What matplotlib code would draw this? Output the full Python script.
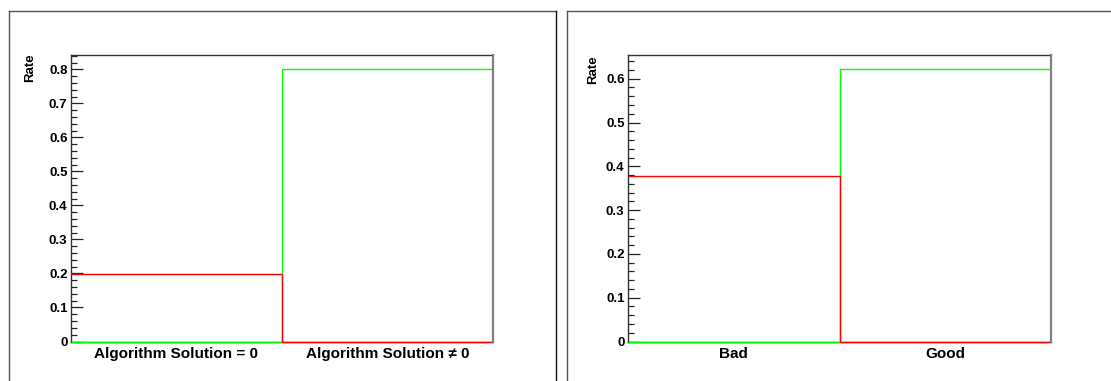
import matplotlib
matplotlib.use('Agg')
from matplotlib import pyplot as plt
from matplotlib.lines import Line2D
import matplotlib.ticker as ticker
import numpy as np

plt.rcParams['font.family'] = ['Liberation Sans', 'DejaVu Sans']
plt.rcParams['font.weight'] = 'bold'

# -------- data ----------#
labels_1 = ['Algorithm Solution = 0', 'Algorithm Solution \u2260 0']
green_1 = [0.0, 0.802]
red_1 = [0.198, 0.0]

labels_2 = ['Bad', 'Good']
green_2 = [0.0, 0.623]
red_2 = [0.377, 0.0]

W, H = 1111, 381
fig = plt.figure(figsize=(W / 100, H / 100), dpi=100)


def px_axes(x0, y0, x1, y1):
    # pixel box (top-left origin) -> figure fraction
    return fig.add_axes([x0 / W, 1 - y1 / H, (x1 - x0) / W, (y1 - y0) / H])


def pad_border(x0, x1, right_dark):
    y0 = 10.5
    fx = lambda x: x / W
    fy = lambda y: 1 - y / H
    fig.add_artist(Line2D([fx(x0), fx(x0)], [fy(H + 5), fy(y0)], color='#555555', lw=1.0))
    fig.add_artist(Line2D([fx(x0), fx(x1)], [fy(y0), fy(y0)], color='#555555', lw=1.0))
    if right_dark:
        fig.add_artist(Line2D([fx(x1), fx(x1)], [fy(y0), fy(H + 5)], color='#111111', lw=1.0))


def draw_panel(ax, labels, green, red):
    edges = np.arange(len(labels) + 1)
    # ROOT style outline: no vertical lines at the outer edges
    ax.stairs(green, edges, color='#00ff00', lw=1.0, baseline=None, clip_on=False, zorder=3)
    ax.stairs(red, edges, color='#ff0000', lw=1.0, baseline=None, clip_on=False, zorder=3.1)
    ax.set_xlim(0, len(labels))
    ax.set_ylim(0, max(max(green), max(red)) * 1.05)
    ax.set_xticks(edges[:-1] + 0.5)
    ax.set_xticklabels(labels, fontsize=11, fontweight='bold')
    ax.tick_params(axis='x', length=0, pad=4)
    ax.yaxis.set_major_locator(ticker.MultipleLocator(0.1))
    ax.yaxis.set_minor_locator(ticker.MultipleLocator(0.02))
    ax.yaxis.set_major_formatter(ticker.FuncFormatter(lambda v, p: '%g' % round(v, 3)))
    ax.tick_params(axis='y', which='major', direction='in', length=8.5, width=0.9,
                   color='#222222', labelsize=9.5, pad=2.5)
    ax.tick_params(axis='y', which='minor', direction='in', length=4.3, width=0.9,
                   color='#222222')
    for lab in ax.get_yticklabels():
        lab.set_fontweight('bold')
    for s in ['top', 'left', 'bottom']:
        ax.spines[s].set_color('#333333')
        ax.spines[s].set_linewidth(1.0)
    ax.spines['bottom'].set_zorder(2)
    ax.spines['right'].set_color('#808080')
    ax.spines['right'].set_linewidth(1.6)
    ax.spines['right'].set_zorder(4)


pad_border(9, 555.5, True)
pad_border(566.5, W + 5, False)

ax1 = px_axes(71, 55, 493, 341.5)
draw_panel(ax1, labels_1, green_1, red_1)
fig.text(30.5 / W, 1 - 53 / H, 'Rate', rotation=90, ha='center', va='top',
         fontsize=9.5, fontweight='bold')

ax2 = px_axes(628, 55, 1051, 341.5)
draw_panel(ax2, labels_2, green_2, red_2)
fig.text(593.5 / W, 1 - 55 / H, 'Rate', rotation=90, ha='center', va='top',
         fontsize=9.5, fontweight='bold')

fig.savefig('out.png', dpi=100)
